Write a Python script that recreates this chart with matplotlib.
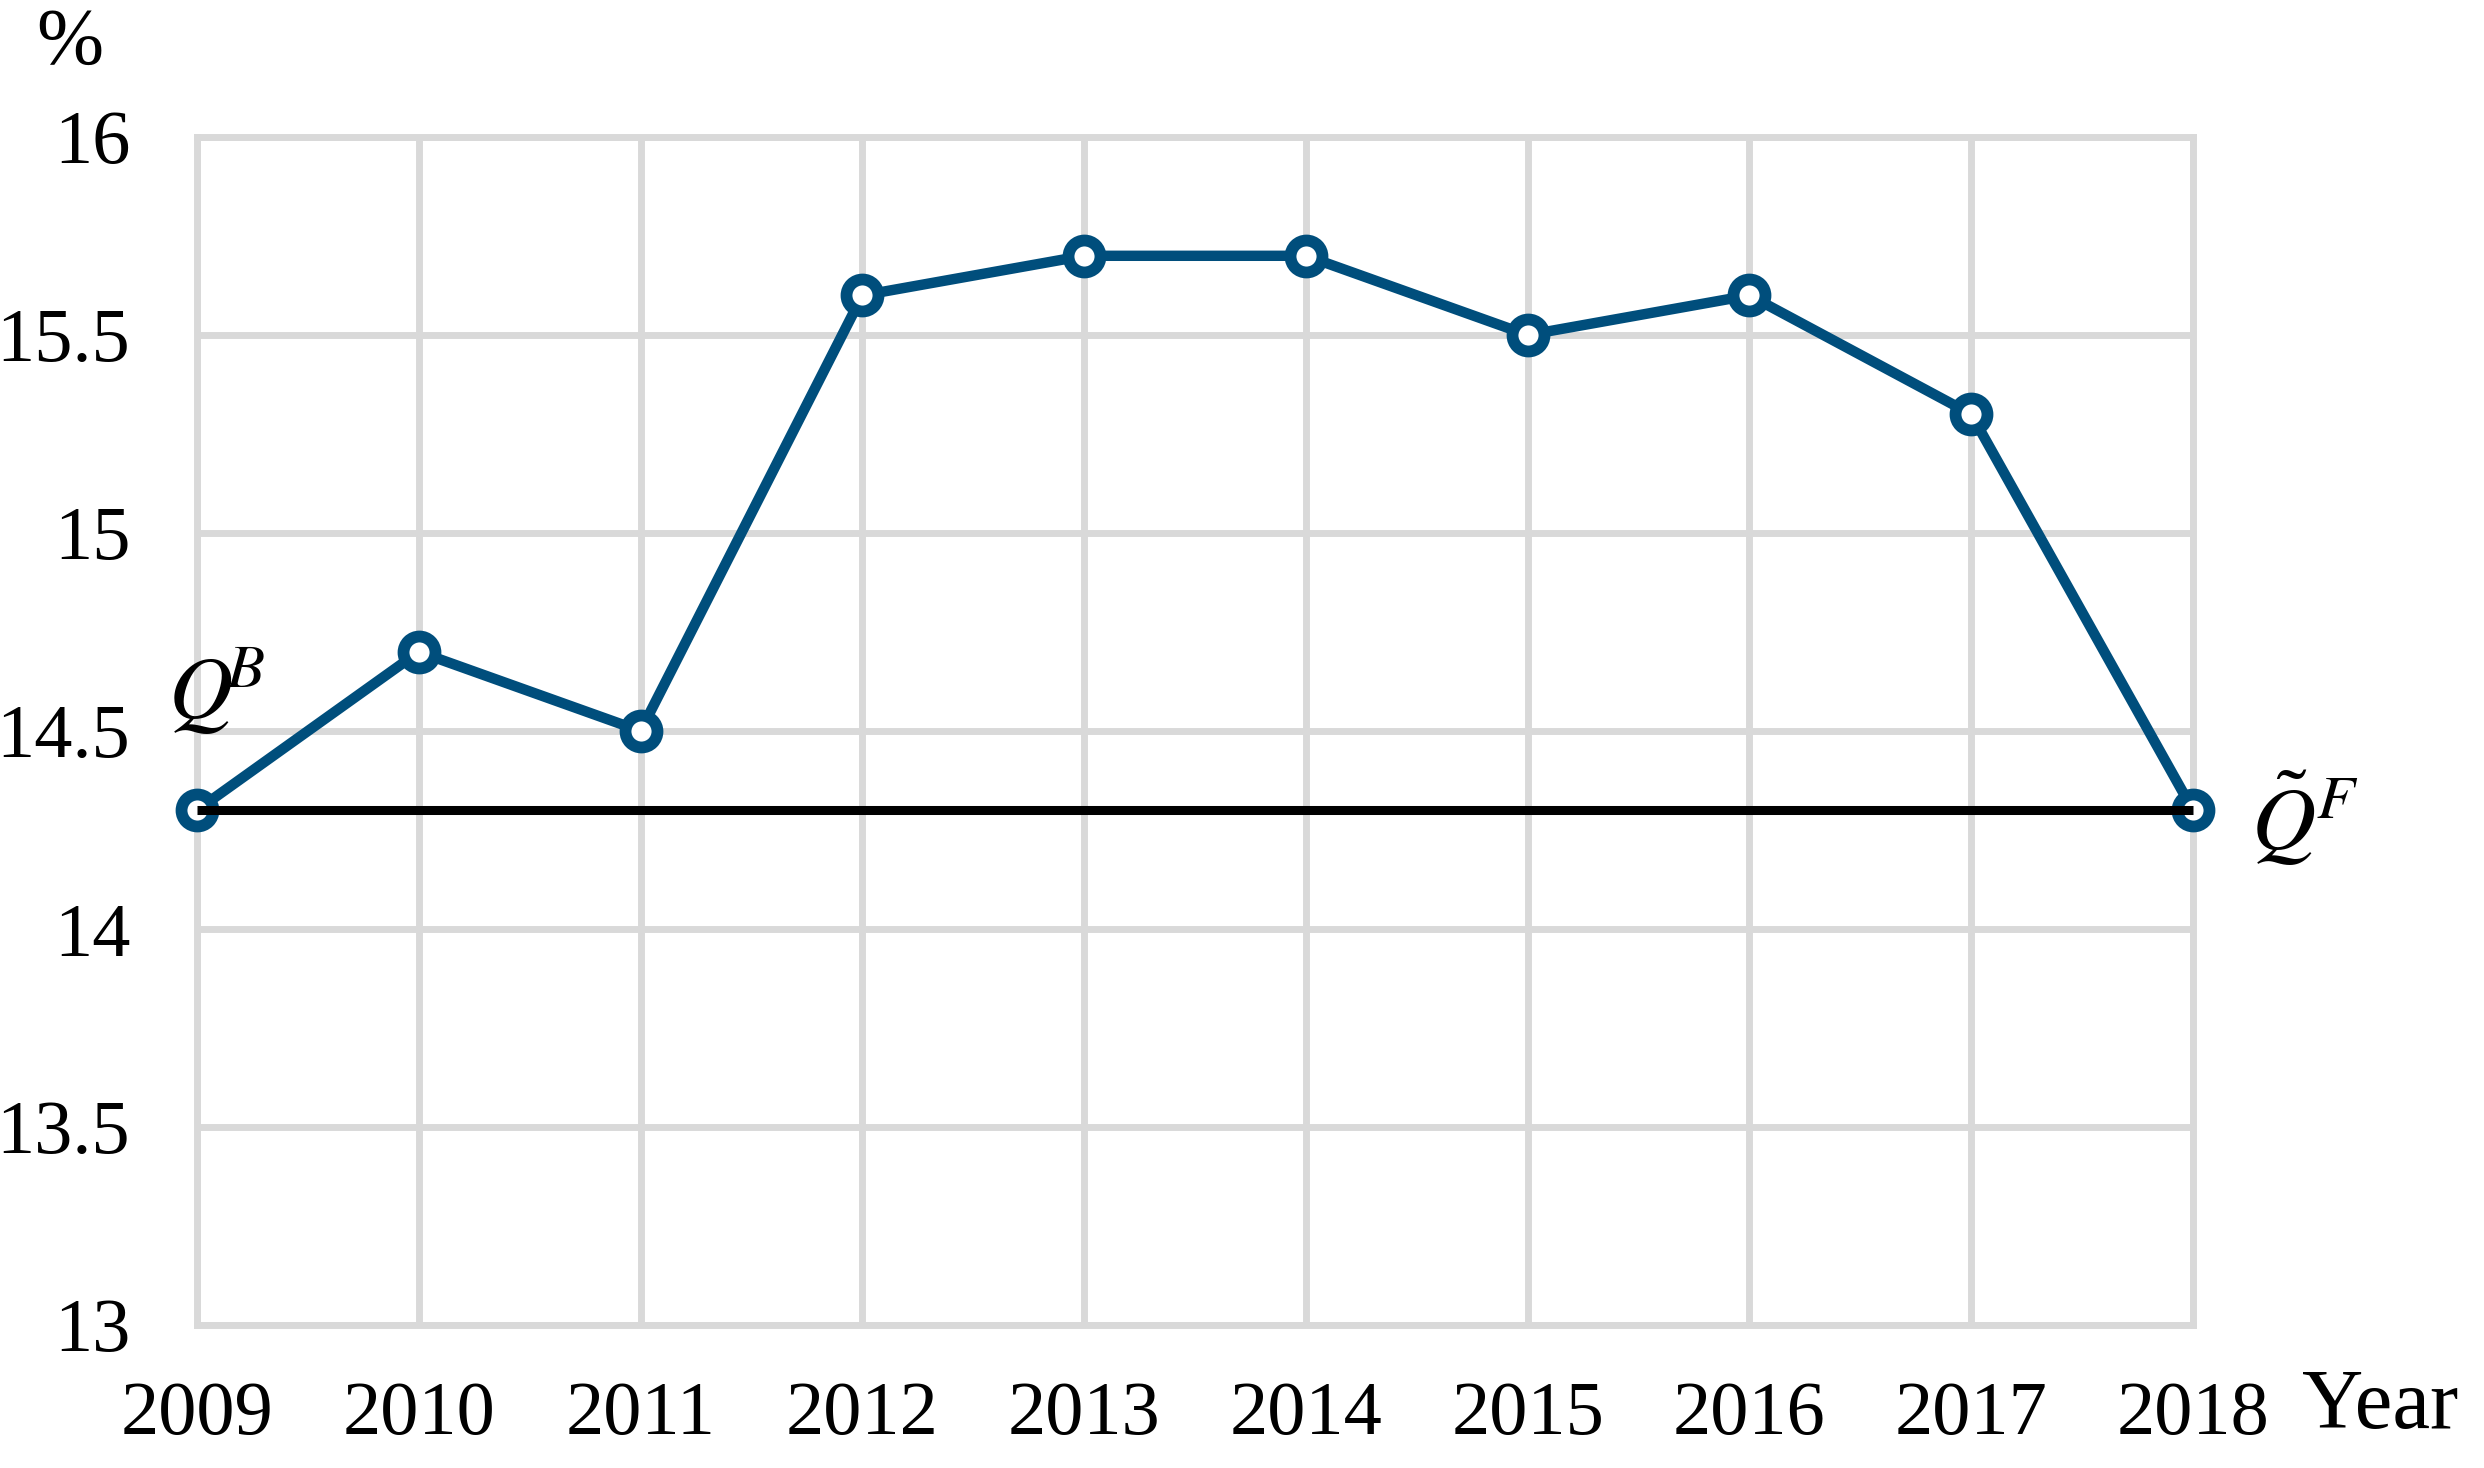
import matplotlib
matplotlib.use("Agg")
import matplotlib.pyplot as plt

years = [2009, 2010, 2011, 2012, 2013, 2014, 2015, 2016, 2017, 2018]
values = [14.3, 14.7, 14.5, 15.6, 15.7, 15.7, 15.5, 15.6, 15.3, 14.3]
baseline = 14.3
yticks = [13, 13.5, 14, 14.5, 15, 15.5, 16]
ytick_labels = ["13", "13.5", "14", "14.5", "15", "15.5", "16"]

plt.rcParams['font.family'] = ['Liberation Serif', 'DejaVu Serif']
plt.rcParams['mathtext.fontset'] = 'stix'

fig = plt.figure(figsize=(24.84, 14.68), dpi=100)
ax = fig.add_axes([197/2484, 1 - 1325/1468, (2193-197)/2484, (1325-137)/1468])

grid_c = '#D9D9D9'
blue = '#004E7C'

ax.set_xlim(years[0], years[-1])
ax.set_ylim(13, 16)
ax.set_xticks(years)
ax.set_xticklabels([str(y) for y in years])
ax.set_yticks(yticks)
ax.set_yticklabels(ytick_labels)
ax.grid(True, color=grid_c, linewidth=5, zorder=0)
ax.set_axisbelow(True)
for s in ax.spines.values():
    s.set_color(grid_c)
    s.set_linewidth(5)
ax.tick_params(axis='both', length=0, labelsize=55)
ax.tick_params(axis='y', pad=48)
ax.tick_params(axis='x', pad=40)

ax.plot(years, values, color=blue, linewidth=7.5, marker='o', markersize=23,
        markeredgewidth=8.5, markerfacecolor='white', markeredgecolor=blue,
        zorder=3, clip_on=False)
ax.plot([years[0], years[-1]], [baseline, baseline], color='black', linewidth=6.5,
        zorder=4, clip_on=False, solid_capstyle='butt')

ax.text(2008.87, 14.53, r'$Q^{\!\!B}$', fontsize=64, ha='left', va='baseline', clip_on=False)
ax.text(2018.26, 14.2, r'$\tilde{Q}^{F}$', fontsize=64, ha='left', va='baseline', clip_on=False)

fig.text(70/2484, 1 - 44/1468, '%', fontsize=58, ha='center', va='center')
fig.text(2302/2484, 1 - 1428/1468, 'Year', fontsize=61, ha='left', va='baseline')

fig.savefig('out.png', dpi=100, facecolor='white')
